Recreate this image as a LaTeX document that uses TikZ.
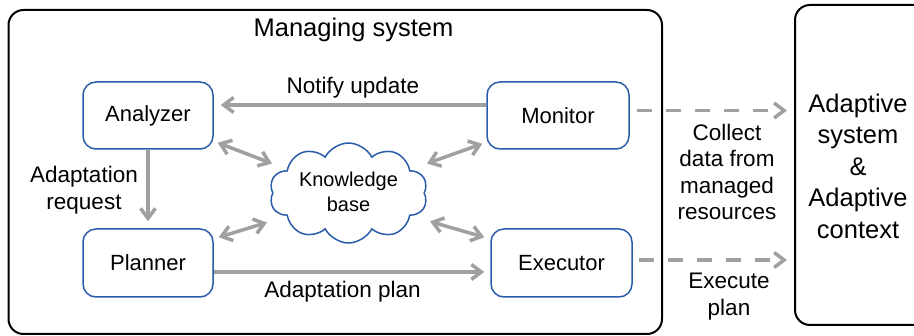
\documentclass[tikz,border=0pt]{standalone}
\usepackage{fontspec}
\setmainfont{Liberation Sans}
\usetikzlibrary{arrows.meta,shapes.symbols}
\definecolor{boxblue}{RGB}{42,92,170}
\definecolor{arrgray}{RGB}{160,160,160}
\tikzset{
  comp/.style={draw=boxblue, line width=1.5pt, rounded corners=13pt, minimum height=67pt,
    font=\fontsize{22}{26}\selectfont, inner sep=0pt},
  barb/.tip={Straight Barb[length=10pt,width=15pt]},
  arr/.style={draw=arrgray, line width=3.5pt, -barb},
  darr/.style={draw=arrgray, line width=3.5pt, barb-barb},
  dasharr/.style={arr, dash pattern=on 15pt off 14pt},
  lbl/.style={font=\fontsize{22.5}{26.4}\selectfont, align=center, inner sep=0pt},
  big/.style={font=\fontsize{25.5}{31.5}\selectfont, align=center, inner sep=0pt},
}
\begin{document}
\begin{tikzpicture}[x=1pt,y=-1pt]
\useasboundingbox (0,0) rectangle (914,336);
\clip (0,0) rectangle (914,336);
% containers
\node[draw, line width=2pt, rounded corners=15pt, minimum width=653.5pt, minimum height=324pt, inner sep=0pt] (ms) at (335.25,172) {};
\node[draw, line width=2pt, rounded corners=15pt, minimum width=135pt, minimum height=320pt, inner sep=0pt] (rb) at (862.5,165) {};
\node[big] (title) at (353.5,30.2) {Managing system};
\node[big] (rbtext) at (858,166) {Adaptive\\system\\\&\\Adaptive\\context};
% components
\node[comp, minimum width=130pt] (ana) at (148,115.5) {Analyzer};
\node[comp, minimum width=142pt] (mon) at (558,115.5) {Monitor};
\node[comp, minimum width=130pt, minimum height=68pt] (pla) at (148,263) {Planner};
\node[comp, minimum width=141pt, minimum height=68pt] (exe) at (561.5,263) {Executor};
\node[cloud, cloud puffs=10, cloud puff arc=125, aspect=1.6, draw=boxblue, line width=1.5pt, minimum width=158pt, minimum height=100pt, inner sep=0pt] (kb) at (348.5,193) {};
\node[align=center, inner sep=0pt, font=\fontsize{20}{25}\selectfont] (kbt) at (348.5,192) {Knowledge\\base};
% arrows
\draw[arr] ([yshift=10.5pt]mon.west) -- ([yshift=10.5pt,xshift=7pt]ana.east);
\draw[arr] (ana.south) -- ([yshift=7pt]pla.north);
\draw[arr] ([yshift=-9pt]pla.east) -- ([yshift=-9pt,xshift=-6pt]exe.west);
\draw[darr] ([xshift=4pt,yshift=7pt]ana.south east) -- ([xshift=-76.5pt,yshift=29.5pt]kb.center);
\draw[darr] ([xshift=-4pt,yshift=6pt]mon.south west) -- ([xshift=78.5pt,yshift=29.5pt]kb.center);
\draw[darr] ([xshift=5pt,yshift=-9pt]pla.north east) -- ([xshift=-81.5pt,yshift=-29.5pt]kb.center);
\draw[darr] ([xshift=-6pt,yshift=-9pt]exe.north west) -- ([xshift=81.5pt,yshift=-28.5pt]kb.center);
\path ([xshift=7pt,yshift=5pt]mon.east) coordinate (s1);
\path (s1 -| rb.west) coordinate (e1);
\draw[dasharr] (s1) -- ([xshift=-7pt]e1);
\path ([xshift=6pt,yshift=3pt]exe.east) coordinate (s2);
\path (s2 -| rb.west) coordinate (e2);
\draw[dasharr] (s2) -- ([xshift=-7pt]e2);
% labels
\node[lbl] (lnot) at (353,87.6) {Notify update};
\node[lbl] (lreq) at (84,190) {Adaptation\\request};
\node[lbl] (lplan) at (342.5,292) {Adaptation plan};
\node[lbl] (lcol) at (727,172) {Collect\\data from\\managed\\resources};
\node[lbl] (lexe) at (729,296.5) {Execute\\plan};
\end{tikzpicture}
\end{document}
